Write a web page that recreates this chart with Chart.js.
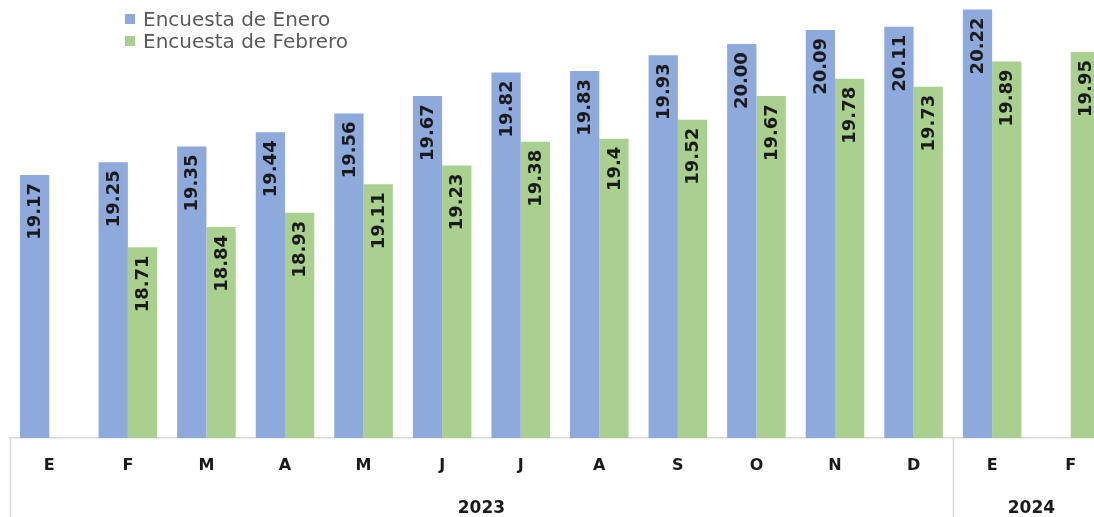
<!DOCTYPE html>
<html lang="es">
<head>
<meta charset="utf-8">
<title>Encuestas de expectativas: tipo de cambio</title>
<script src="https://cdn.jsdelivr.net/npm/chart.js@4.4.1/dist/chart.umd.min.js"></script>
<style>
  html, body { margin: 0; padding: 0; background: #ffffff; overflow: hidden; }
  #wrap { position: relative; width: 1120px; height: 517px; }
  #legend {
    position: absolute; left: 125px; top: 8px;
    font-family: "DejaVu Sans", sans-serif; font-size: 20px; color: #595959;
  }
  #legend .item { display: flex; align-items: center; height: 22px; }
  #legend .sw { width: 10px; height: 10px; margin-right: 8px; }
</style>
</head>
<body>
<div id="wrap">
  <canvas id="chart" width="1120" height="517"></canvas>
  <div id="legend"></div>
</div>
<script>
// Month initials along the axis (2023 full year, then Jan–Feb 2024)
const months = ['E', 'F', 'M', 'A', 'M', 'J', 'J', 'A', 'S', 'O', 'N', 'D', 'E', 'F'];

// Year groups under the months and how many months each spans
const years = ['2023', '2024'];
const yearSpans = [12, 2];

// Series values as printed on the bars (null = no survey value)
const eneroLabels = ['19.17', '19.25', '19.35', '19.44', '19.56', '19.67', '19.82',
                     '19.83', '19.93', '20.00', '20.09', '20.11', '20.22', null];
const febreroLabels = [null, '18.71', '18.84', '18.93', '19.11', '19.23', '19.38',
                       '19.4', '19.52', '19.67', '19.78', '19.73', '19.89', '19.95'];

const seriesNames = ['Encuesta de Enero', 'Encuesta de Febrero'];
const seriesColors = ['#8EA9DB', '#A9D08E'];

const toNum = arr => arr.map(v => (v === null ? null : Number(v)));

// Centres and starting edges of each year group, in category units
const yearCenters = [];
const yearStarts = [];
{
  let start = 0;
  for (const span of yearSpans) {
    yearCenters.push(start + (span - 1) / 2);
    yearStarts.push(start - 0.5);
    start += span;
  }
}

// Value labels written vertically inside the top of each bar
const barLabels = {
  id: 'barLabels',
  afterDatasetsDraw(chart) {
    const ctx = chart.ctx;
    ctx.save();
    ctx.font = 'bold 18px "DejaVu Sans", sans-serif';
    ctx.fillStyle = '#1a1a1a';
    ctx.textAlign = 'right';
    ctx.textBaseline = 'middle';
    chart.data.datasets.forEach((ds, di) => {
      const meta = chart.getDatasetMeta(di);
      meta.data.forEach((bar, i) => {
        const txt = ds.labelsText[i];
        if (txt === null || ds.data[i] === null) return;
        ctx.save();
        ctx.translate(bar.x, bar.y + 8);
        ctx.rotate(-Math.PI / 2);
        ctx.fillText(txt, 0, 1);
        ctx.restore();
      });
    });
    ctx.restore();
  }
};

// Vertical separators of the year groups below the plot
const yearDividers = {
  id: 'yearDividers',
  afterDraw(chart) {
    const ctx = chart.ctx;
    const xScale = chart.scales.x;
    const top = chart.chartArea.bottom;
    const step = (xScale.getPixelForValue(1) - xScale.getPixelForValue(0));
    ctx.save();
    ctx.strokeStyle = '#d9d9d9';
    ctx.lineWidth = 1.5;
    yearStarts.forEach(v => {
      const x = Math.round(xScale.getPixelForValue(0) + (v * step)) + 0.5;
      ctx.beginPath();
      ctx.moveTo(x, top);
      ctx.lineTo(x, chart.height);
      ctx.stroke();
    });
    ctx.restore();
  }
};

const chart = new Chart(document.getElementById('chart'), {
  type: 'bar',
  data: {
    labels: months,
    datasets: [
      {
        label: seriesNames[0],
        data: toNum(eneroLabels),
        labelsText: eneroLabels,
        backgroundColor: seriesColors[0]
      },
      {
        label: seriesNames[1],
        data: toNum(febreroLabels),
        labelsText: febreroLabels,
        backgroundColor: seriesColors[1]
      }
    ]
  },
  options: {
    responsive: false,
    animation: false,
    layout: { padding: { left: 10, right: 10, top: 0, bottom: 0 } },
    datasets: { bar: { categoryPercentage: 0.745, barPercentage: 1.0 } },
    plugins: {
      legend: { display: false },
      tooltip: { enabled: false }
    },
    scales: {
      y: {
        display: false,
        min: 17.5,
        max: 20.28
      },
      x: {
        position: 'bottom',
        offset: true,
        grid: { display: false, drawTicks: false },
        border: { display: true, color: '#d9d9d9', width: 1.5 },
        ticks: {
          padding: 18,
          color: '#1a1a1a',
          font: { family: '"DejaVu Sans", sans-serif', size: 16, weight: 'bold' },
          maxRotation: 0,
          autoSkip: false
        },
        afterFit(scale) { scale.height = 52; }
      },
      year: {
        type: 'linear',
        position: 'bottom',
        offset: false,
        min: -0.5,
        max: months.length - 0.5,
        grid: { display: false, drawTicks: false, offset: false },
        border: { display: false },
        afterBuildTicks(scale) {
          scale.ticks = yearCenters.map(v => ({ value: v }));
        },
        ticks: {
          padding: 8,
          color: '#1a1a1a',
          font: { family: '"DejaVu Sans", sans-serif', size: 17, weight: 'bold' },
          maxRotation: 0,
          autoSkip: false,
          callback(value) {
            const idx = yearCenters.indexOf(value);
            return idx >= 0 ? years[idx] : '';
          }
        },
        afterFit(scale) { scale.height = 27; }
      }
    }
  },
  plugins: [barLabels, yearDividers]
});

// Legend built from the dataset names and colours
const legend = document.getElementById('legend');
chart.data.datasets.forEach(ds => {
  const item = document.createElement('div');
  item.className = 'item';
  const sw = document.createElement('span');
  sw.className = 'sw';
  sw.style.background = ds.backgroundColor;
  const label = document.createElement('span');
  label.textContent = ds.label;
  item.appendChild(sw);
  item.appendChild(label);
  legend.appendChild(item);
});
</script>
</body>
</html>
